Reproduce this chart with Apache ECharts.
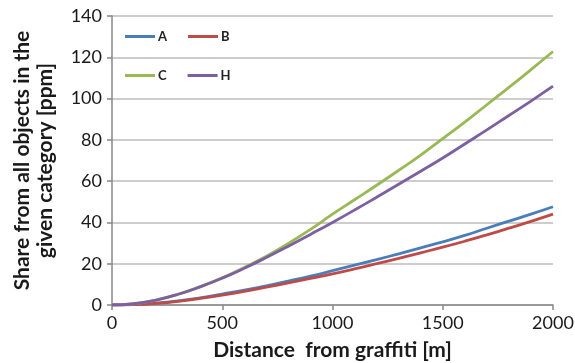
<!DOCTYPE html>
<html>
<head>
<meta charset="utf-8">
<script src="https://cdn.jsdelivr.net/npm/echarts@6/dist/echarts.min.js"></script>
<style>
  html, body { margin: 0; padding: 0; background: #fff; }
  #chart { width: 575px; height: 363px; }
</style>
</head>
<body>
<div id="chart"></div>
<script>
const distances = [0, 100, 200, 300, 400, 500, 600, 700, 800, 900, 1000, 1100, 1200, 1300, 1400, 1500, 1600, 1700, 1800, 1900, 2000]
const seriesA = [0, 0.2, 0.9, 2, 3.5, 5.3, 7.2, 9.3, 11.6, 14, 16.6, 19.3, 22, 24.8, 27.7, 30.6, 33.7, 37.2, 40.6, 44, 47.6]
const seriesB = [0, 0.2, 0.8, 1.8, 3.2, 4.8, 6.6, 8.6, 10.7, 12.9, 15.1, 17.5, 20, 22.6, 25.3, 28, 30.9, 34, 37.2, 40.5, 44]
const seriesC = [0, 0.6, 2.4, 5.2, 8.9, 13.2, 18.2, 23.6, 29.8, 36.6, 44, 51, 58, 65.2, 72.6, 80.6, 88.6, 97, 105.4, 114, 122.8]
const seriesH = [0, 0.6, 2.4, 5.2, 8.8, 13, 17.8, 23, 28.5, 34.2, 40, 46, 52.2, 58.5, 64.8, 71.2, 78, 84.8, 91.8, 98.8, 106]

const colors = { A: '#4a7ebb', B: '#be4b48', C: '#98b954', H: '#7d60a0' }

function pairs (ys) {
  return distances.map((x, i) => [x, ys[i]])
}

function lineSeries (name, ys) {
  return {
    name: name,
    type: 'line',
    data: pairs(ys),
    showSymbol: false,
    smooth: true,
    lineStyle: { color: colors[name], width: 2.8 },
    itemStyle: { color: colors[name] }
  }
}

const legendBase = {
  left: 125,
  padding: 0,
  icon: 'rect',
  itemWidth: 30,
  itemHeight: 3,
  itemGap: 21,
  textStyle: { fontFamily: 'Lato', fontWeight: 'bold', fontSize: 13, color: '#222', padding: [0, 0, 0, -2] }
}

const chart = echarts.init(document.getElementById('chart'))
chart.setOption({
  animation: false,
  textStyle: { fontFamily: 'Lato' },
  legend: [
    Object.assign({ top: 30, data: ['A', 'B'] }, legendBase),
    Object.assign({ top: 69, data: ['C', 'H'] }, legendBase)
  ],
  grid: { left: 112, right: 22, top: 16, bottom: 58, outerBoundsMode: 'none' },
  xAxis: {
    type: 'value',
    min: 0,
    max: 2000,
    interval: 500,
    name: 'Distance  from graffiti [m]',
    nameLocation: 'middle',
    nameGap: 35,
    nameTextStyle: { fontFamily: 'Lato', fontWeight: 'bold', fontSize: 21, color: '#1a1a1a' },
    axisLine: { show: true, lineStyle: { color: '#888', width: 1.5 } },
    axisTick: { show: true, length: 5, lineStyle: { color: '#888', width: 1.5 } },
    axisLabel: { fontSize: 18, color: '#1a1a1a', margin: 9, formatter: v => String(v) },
    splitLine: { show: false }
  },
  yAxis: {
    type: 'value',
    min: 0,
    max: 140,
    interval: 20,
    name: 'Share from all objects in the\ngiven category [ppm]',
    nameLocation: 'middle',
    nameGap: 55,
    nameTextStyle: { fontFamily: 'Lato', fontWeight: 'bold', fontSize: 21, color: '#1a1a1a', lineHeight: 23 },
    axisLine: { show: true, lineStyle: { color: '#888', width: 1.5 } },
    axisTick: { show: true, length: 5, lineStyle: { color: '#888', width: 1.5 } },
    axisLabel: { fontSize: 18, color: '#1a1a1a', margin: 10 },
    splitLine: { show: true, lineStyle: { color: '#bdbdbd', width: 1.5 } }
  },
  series: [
    lineSeries('A', seriesA),
    lineSeries('B', seriesB),
    lineSeries('C', seriesC),
    lineSeries('H', seriesH)
  ]
})
</script>
</body>
</html>
